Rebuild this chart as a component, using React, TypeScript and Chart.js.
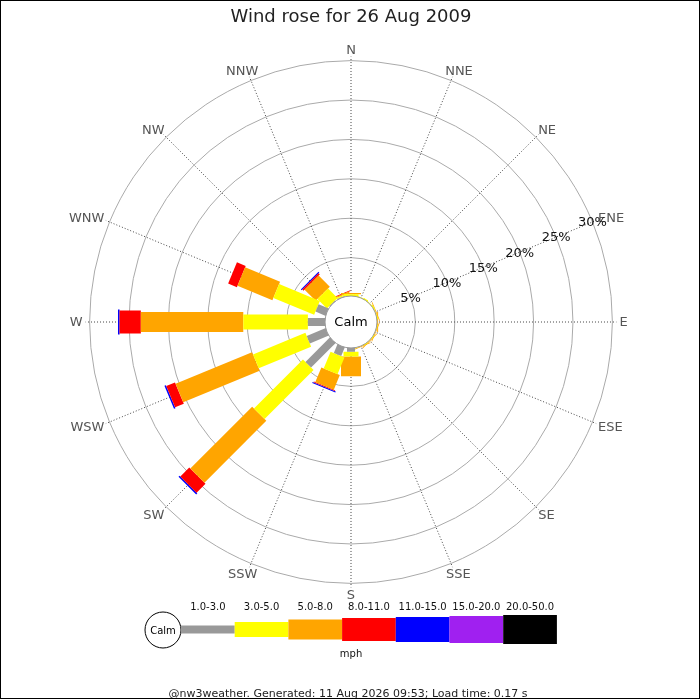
import React, { useEffect, useRef } from 'react';
import { Chart, registerables } from 'chart.js';

Chart.register(...registerables);

// ---------- data ----------
const TITLE = 'Wind rose for 26 Aug 2009';
const FOOTER = '@nw3weather. Generated: 11 Aug 2026 09:53; Load time: 0.17 s';
const UNIT_LABEL = 'mph';
const CALM_LABEL = 'Calm';

const DIRECTIONS = ['N', 'NNE', 'NE', 'ENE', 'E', 'ESE', 'SE', 'SSE', 'S', 'SSW', 'SW', 'WSW', 'W', 'WNW', 'NW', 'NNW'];
const SPEED_BINS = ['1.0-3.0', '3.0-5.0', '5.0-8.0', '8.0-11.0', '11.0-15.0', '15.0-20.0', '20.0-50.0'];

// percentage of time per direction (N, NNE, ... NNW) for each speed bin
const BIN_1_3 = [0.1, 0.05, 0.05, 0.05, 0.05, 0.05, 0.05, 0.05, 0.6, 1.3, 4.5, 2.7, 2.3, 1.5, 0.2, 0.2];
const BIN_3_5 = [0.25, 0.15, 0.15, 0.15, 0.1, 0.1, 0.1, 0.1, 0.6, 2.3, 8.8, 7.2, 8.2, 5.6, 1.7, 0.15];
const BIN_5_8 = [0.15, 0, 0, 0.1, 0.12, 0.1, 0.1, 0.1, 2.5, 2.0, 11.1, 10.5, 13.0, 4.8, 2.0, 0.15];
const BIN_8_11 = [0, 0, 0, 0, 0, 0, 0, 0, 0, 0.12, 1.6, 1.2, 2.7, 1.2, 0.2, 0.1];
const BIN_11_15 = [0, 0, 0, 0, 0, 0, 0, 0, 0, 0.13, 0.2, 0.2, 0.2, 0, 0.15, 0];
const BIN_15_20 = [0, 0, 0, 0, 0, 0, 0, 0, 0, 0, 0, 0, 0, 0, 0, 0];
const BIN_20_50 = [0, 0, 0, 0, 0, 0, 0, 0, 0, 0, 0, 0, 0, 0, 0, 0];
const BIN_SERIES = [BIN_1_3, BIN_3_5, BIN_5_8, BIN_8_11, BIN_11_15, BIN_15_20, BIN_20_50];

const RING_TICKS = [5, 10, 15, 20, 25, 30];
const RING_LABELS = ['5%', '10%', '15%', '20%', '25%', '30%'];

// ---------- styles ----------
const BIN_COLORS = ['#999999', '#ffff00', '#ffa500', '#ff0000', '#0000ff', '#a020f0', '#000000'];
const BIN_WIDTHS = [8, 15, 20, 23, 25, 27, 29];
const FONT = '"DejaVu Sans", Verdana, sans-serif';
const CALM_OFFSET = 3.17; // radius (in % units) of the calm circle where bars start
const AXIS_HALF = 40;
const RING_LABEL_DIR = 3; // ENE

function buildDatasets() {
  const datasets: any[] = [];
  DIRECTIONS.forEach((_, d) => {
    const theta = (d * 22.5 * Math.PI) / 180;
    let cum = CALM_OFFSET;
    BIN_SERIES.forEach((series, b) => {
      const v = series[d];
      if (v <= 0) return;
      const r0 = cum;
      const r1 = cum + v;
      cum = r1;
      datasets.push({
        label: `${DIRECTIONS[d]} ${SPEED_BINS[b]}`,
        data: [
          { x: r0 * Math.sin(theta), y: r0 * Math.cos(theta) },
          { x: r1 * Math.sin(theta), y: r1 * Math.cos(theta) },
        ],
        showLine: true,
        borderColor: BIN_COLORS[b],
        backgroundColor: BIN_COLORS[b],
        borderWidth: BIN_WIDTHS[b],
        borderCapStyle: 'butt',
        borderJoinStyle: 'bevel',
        // a dash longer than any bar: keeps the stroke solid and makes
        // Chart.js use its plain lineTo path (no fast-path pixel merging)
        borderDash: [5000, 1],
        pointRadius: 0,
        pointHoverRadius: 0,
        fill: false,
        tension: 0,
        order: b,
      });
    });
  });
  return datasets;
}

const rosePlugin = {
  id: 'rosePlugin',
  beforeDatasetsDraw(chart: any) {
    const { ctx, scales } = chart;
    const xs = scales.x;
    const ys = scales.y;
    const cx = xs.getPixelForValue(0);
    const cy = ys.getPixelForValue(0);
    const rad = (v: number) => xs.getPixelForValue(v) - cx;
    ctx.save();
    ctx.lineWidth = 1;
    ctx.strokeStyle = '#aaaaaa';
    RING_TICKS.forEach((p) => {
      ctx.beginPath();
      ctx.arc(cx, cy, rad(CALM_OFFSET + p), 0, Math.PI * 2);
      ctx.stroke();
    });
    ctx.strokeStyle = '#444444';
    ctx.setLineDash([1, 2]);
    const rIn = rad(CALM_OFFSET);
    const rOut = rad(CALM_OFFSET + RING_TICKS[RING_TICKS.length - 1]) + 4;
    DIRECTIONS.forEach((_, d) => {
      const t = (d * 22.5 * Math.PI) / 180;
      ctx.beginPath();
      ctx.moveTo(cx + rIn * Math.sin(t), cy - rIn * Math.cos(t));
      ctx.lineTo(cx + rOut * Math.sin(t), cy - rOut * Math.cos(t));
      ctx.stroke();
    });
    ctx.setLineDash([]);
    // direction labels
    ctx.font = `13px ${FONT}`;
    ctx.fillStyle = '#555555';
    ctx.textAlign = 'center';
    ctx.textBaseline = 'middle';
    const rLab = rad(CALM_OFFSET + RING_TICKS[RING_TICKS.length - 1]) + 5;
    DIRECTIONS.forEach((name, d) => {
      const t = (d * 22.5 * Math.PI) / 180;
      const w = ctx.measureText(name).width;
      const px = cx + rLab * Math.sin(t) + Math.sin(t) * (w / 2 + 2);
      const py = cy - rLab * Math.cos(t) - Math.cos(t) * 6;
      ctx.fillText(name, px, py + 1);
    });
    ctx.restore();
  },
  afterDatasetsDraw(chart: any) {
    const { ctx, scales } = chart;
    const xs = scales.x;
    const ys = scales.y;
    const cx = xs.getPixelForValue(0);
    const cy = ys.getPixelForValue(0);
    const rad = (v: number) => xs.getPixelForValue(v) - cx;
    ctx.save();
    // calm circle
    ctx.beginPath();
    ctx.arc(cx, cy, rad(CALM_OFFSET) + 1, 0, Math.PI * 2);
    ctx.fillStyle = '#ffffff';
    ctx.fill();
    ctx.lineWidth = 1;
    ctx.strokeStyle = '#999999';
    ctx.stroke();
    ctx.fillStyle = '#000000';
    ctx.font = `13px ${FONT}`;
    ctx.textAlign = 'center';
    ctx.textBaseline = 'middle';
    ctx.fillText(CALM_LABEL, cx, cy + 1);
    // ring labels
    const t = (RING_LABEL_DIR * 22.5 * Math.PI) / 180;
    ctx.fillStyle = '#111111';
    RING_TICKS.forEach((p, i) => {
      const r = rad(CALM_OFFSET + p);
      ctx.fillText(RING_LABELS[i], cx + r * Math.sin(t), cy - r * Math.cos(t) + 1);
    });
    ctx.restore();
  },
  afterDraw(chart: any) {
    const { ctx } = chart;
    ctx.save();
    // title
    ctx.fillStyle = '#222222';
    ctx.font = `18px ${FONT}`;
    ctx.textAlign = 'center';
    ctx.textBaseline = 'middle';
    ctx.fillText(TITLE, 351, 17);
    // legend
    const legY = 629.5;
    const calmX = 163;
    ctx.beginPath();
    ctx.arc(calmX, 630, 18, 0, Math.PI * 2);
    ctx.fillStyle = '#ffffff';
    ctx.fill();
    ctx.strokeStyle = '#000000';
    ctx.lineWidth = 1;
    ctx.stroke();
    ctx.fillStyle = '#000000';
    ctx.font = `10px ${FONT}`;
    ctx.fillText(CALM_LABEL, calmX, 631);
    const segLen = 53.7;
    let x0 = 181;
    SPEED_BINS.forEach((lab, b) => {
      const h = BIN_WIDTHS[b];
      ctx.fillStyle = BIN_COLORS[b];
      ctx.fillRect(x0, legY - h / 2, segLen, h);
      ctx.fillStyle = '#111111';
      ctx.fillText(lab, x0 + segLen / 2, 607);
      x0 += segLen;
    });
    ctx.fillText(UNIT_LABEL, 351, 654);
    // footer
    ctx.font = `11px ${FONT}`;
    ctx.fillStyle = '#222222';
    ctx.fillText(FOOTER, 348, 694);
    // border
    ctx.strokeStyle = '#000000';
    ctx.lineWidth = 1;
    ctx.strokeRect(0.5, 0.5, 699, 698);
    ctx.restore();
  },
};

export default function App() {
  const ref = useRef<HTMLCanvasElement | null>(null);
  useEffect(() => {
    document.body.style.margin = '0';
    const canvas = ref.current;
    if (!canvas) return;
    const pxPerUnit = 7.88;
    const half = AXIS_HALF * pxPerUnit;
    const cx = 351;
    const cy = 322;
    const chart = new Chart(canvas, {
      type: 'scatter',
      data: { datasets: buildDatasets() },
      options: {
        responsive: false,
        maintainAspectRatio: false,
        animation: false,
        events: [],
        layout: {
          padding: {
            left: cx - half,
            right: 700 - (cx + half),
            top: cy - half,
            bottom: 700 - (cy + half),
          },
        },
        scales: {
          x: { type: 'linear', min: -AXIS_HALF, max: AXIS_HALF, display: false },
          y: { type: 'linear', min: -AXIS_HALF, max: AXIS_HALF, display: false },
        },
        plugins: {
          legend: { display: false },
          tooltip: { enabled: false },
          title: { display: false },
        },
      },
      plugins: [rosePlugin],
    } as any);
    return () => chart.destroy();
  }, []);
  return (
    <div style={{ width: 700, height: 700, background: '#ffffff' }}>
      <canvas ref={ref} width={700} height={700} style={{ display: 'block' }} />
    </div>
  );
}
